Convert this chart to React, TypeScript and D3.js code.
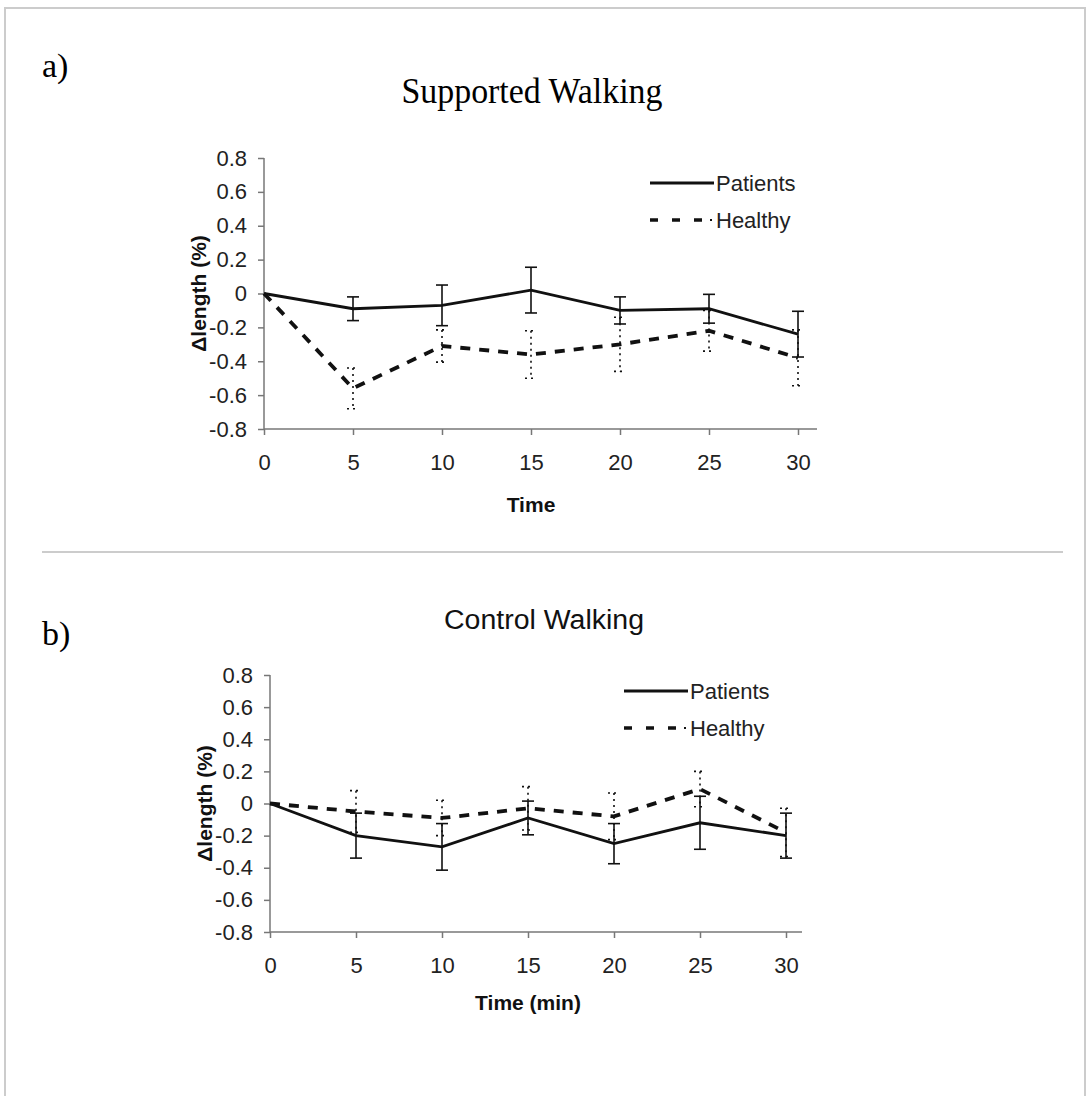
import * as d3 from 'd3';
import React, { useEffect, useRef } from 'react';

// time points (min)
const times = [0, 5, 10, 15, 20, 25, 30];
const yTicks = [-0.8, -0.6, -0.4, -0.2, 0, 0.2, 0.4, 0.6, 0.8];

// a) supported walking
const supPatients = [0, -0.09, -0.07, 0.02, -0.1, -0.09, -0.24];
const supPatientsErr = [0, 0.07, 0.12, 0.135, 0.08, 0.085, 0.135];
const supHealthy = [0, -0.56, -0.31, -0.36, -0.3, -0.22, -0.38];
const supHealthyErr = [0, 0.12, 0.095, 0.14, 0.16, 0.12, 0.165];

// b) control walking
const ctlPatients = [0, -0.2, -0.27, -0.09, -0.25, -0.12, -0.2];
const ctlPatientsErr = [0, 0.14, 0.145, 0.105, 0.125, 0.165, 0.14];
const ctlHealthy = [0, -0.05, -0.09, -0.03, -0.08, 0.09, -0.18];
const ctlHealthyErr = [0, 0.13, 0.11, 0.135, 0.145, 0.11, 0.15];

const SANS = 'Arial, "Liberation Sans", sans-serif';
const SERIF = '"Times New Roman", "Liberation Serif", serif';

const drawPanel = (svg, cfg) => {
  const x = d3.scaleLinear().domain([0, 30]).range([cfg.x0, cfg.x1]);
  const y = d3.scaleLinear().domain([-0.8, 0.8]).range([cfg.yBottom, cfg.yTop]);
  const g = svg.append('g');

  //axes
  const yAxis = g
    .append('g')
    .attr('transform', `translate(${cfg.x0},0)`)
    .call(
      d3
        .axisLeft(y)
        .tickValues(yTicks)
        .tickSize(6)
        .tickSizeOuter(0)
        .tickPadding(11)
        .tickFormat((d) => (d === 0 ? '0' : d.toFixed(1)))
    );
  const xAxis = g
    .append('g')
    .attr('transform', `translate(0,${cfg.yBottom})`)
    .call(d3.axisBottom(x).tickValues(times).tickSize(6).tickSizeOuter(0).tickPadding(19));

  [yAxis, xAxis].forEach((a) => {
    a.select('.domain').remove();
    a.selectAll('.tick line').attr('stroke', '#777').attr('stroke-width', 1.5);
    a.selectAll('.tick text')
      .attr('font-family', SANS)
      .attr('font-size', 22)
      .attr('fill', '#222');
  });

  g.append('line')
    .attr('x1', cfg.x0)
    .attr('x2', cfg.x0)
    .attr('y1', cfg.yTop)
    .attr('y2', cfg.yBottom)
    .attr('stroke', '#777')
    .attr('stroke-width', 1.5);
  g.append('line')
    .attr('x1', cfg.x0)
    .attr('x2', cfg.axisEnd)
    .attr('y1', cfg.yBottom)
    .attr('y2', cfg.yBottom)
    .attr('stroke', '#777')
    .attr('stroke-width', 1.5);

  const line = d3
    .line()
    .x((d, i) => x(times[i]))
    .y((d) => y(d));

  //error bars
  const errBars = (vals, errs, dash, width) => {
    const eg = g.append('g').attr('stroke', '#111').attr('stroke-width', width).attr('stroke-dasharray', dash);
    vals.forEach((v, i) => {
      if (errs[i] === 0) return;
      const cx = x(times[i]);
      eg.append('line').attr('x1', cx).attr('x2', cx).attr('y1', y(v + errs[i])).attr('y2', y(v - errs[i]));
      [v + errs[i], v - errs[i]].forEach((e) => {
        eg.append('line').attr('x1', cx - 6).attr('x2', cx + 6).attr('y1', y(e)).attr('y2', y(e));
      });
    });
  };

  errBars(cfg.healthy, cfg.healthyErr, '2,4', 1.6);
  g.append('path')
    .datum(cfg.healthy)
    .attr('d', line)
    .attr('fill', 'none')
    .attr('stroke', '#111')
    .attr('stroke-width', 3.8)
    .attr('stroke-dasharray', '10,9');

  errBars(cfg.patients, cfg.patientsErr, null, 1.6);
  g.append('path')
    .datum(cfg.patients)
    .attr('d', line)
    .attr('fill', 'none')
    .attr('stroke', '#111')
    .attr('stroke-width', 2.8);

  //legend
  const lg = g.append('g').attr('font-family', SANS).attr('font-size', 22).attr('fill', '#222');
  lg.append('line')
    .attr('x1', cfg.legX)
    .attr('x2', cfg.legX + 64)
    .attr('y1', cfg.legY)
    .attr('y2', cfg.legY)
    .attr('stroke', '#111')
    .attr('stroke-width', 3);
  lg.append('text').attr('x', cfg.legX + 66).attr('y', cfg.legY + 8).text('Patients');
  lg.append('line')
    .attr('x1', cfg.legX)
    .attr('x2', cfg.legX + 58)
    .attr('y1', cfg.legY + 37)
    .attr('y2', cfg.legY + 37)
    .attr('stroke', '#111')
    .attr('stroke-width', 3.5)
    .attr('stroke-dasharray', '8,14');
  lg.append('line')
    .attr('x1', cfg.legX + 60)
    .attr('x2', cfg.legX + 62)
    .attr('y1', cfg.legY + 37)
    .attr('y2', cfg.legY + 37)
    .attr('stroke', '#111')
    .attr('stroke-width', 2);
  lg.append('text').attr('x', cfg.legX + 66).attr('y', cfg.legY + 45).text('Healthy');

  //axis labels
  g.append('text')
    .attr('transform', `translate(${cfg.yLabelX},${y(0)}) rotate(-90)`)
    .attr('text-anchor', 'middle')
    .attr('font-family', SANS)
    .attr('font-weight', 'bold')
    .attr('font-size', 21)
    .attr('fill', '#111')
    .text('Δlength (%)');
  g.append('text')
    .attr('x', (cfg.x0 + cfg.x1) / 2)
    .attr('y', cfg.yBottom + cfg.xLabelOffset)
    .attr('text-anchor', 'middle')
    .attr('font-family', SANS)
    .attr('font-weight', 'bold')
    .attr('font-size', 21)
    .attr('fill', '#111')
    .text(cfg.xLabel);
};

const App = () => {
  const svgRef = useRef();

  useEffect(() => {
    const svg = d3.select(svgRef.current);
    svg.selectAll('*').remove();

    //outer frame and separator
    svg.append('rect')
      .attr('x', 5)
      .attr('y', 8)
      .attr('width', 1080)
      .attr('height', 1100)
      .attr('fill', 'white')
      .attr('stroke', '#ccc')
      .attr('stroke-width', 2);
    svg.append('line')
      .attr('x1', 42)
      .attr('x2', 1063)
      .attr('y1', 552)
      .attr('y2', 552)
      .attr('stroke', '#ccc')
      .attr('stroke-width', 2);

    svg.append('text').attr('x', 42).attr('y', 77).attr('font-family', SERIF).attr('font-size', 34).text('a)');
    svg.append('text')
      .attr('x', 532)
      .attr('y', 103)
      .attr('text-anchor', 'middle')
      .attr('font-family', SERIF)
      .attr('font-size', 35)
      .attr('textLength', 261)
      .attr('lengthAdjust', 'spacingAndGlyphs')
      .text('Supported Walking');

    svg.append('text').attr('x', 42).attr('y', 645).attr('font-family', SERIF).attr('font-size', 34).text('b)');
    svg.append('text')
      .attr('x', 544)
      .attr('y', 629)
      .attr('text-anchor', 'middle')
      .attr('font-family', SANS)
      .attr('font-size', 27)
      .attr('textLength', 200)
      .attr('lengthAdjust', 'spacingAndGlyphs')
      .attr('fill', '#111')
      .text('Control Walking');

    drawPanel(svg, {
      x0: 264,
      x1: 798,
      axisEnd: 817,
      yTop: 158,
      yBottom: 429,
      legX: 650,
      legY: 183,
      yLabelX: 206,
      xLabel: 'Time',
      xLabelOffset: 83,
      patients: supPatients,
      patientsErr: supPatientsErr,
      healthy: supHealthy,
      healthyErr: supHealthyErr
    });

    drawPanel(svg, {
      x0: 270,
      x1: 786,
      axisEnd: 802,
      yTop: 675,
      yBottom: 932,
      legX: 624,
      legY: 691,
      yLabelX: 212,
      xLabel: 'Time (min)',
      xLabelOffset: 78,
      patients: ctlPatients,
      patientsErr: ctlPatientsErr,
      healthy: ctlHealthy,
      healthyErr: ctlHealthyErr
    });
  }, []);

  return (
    <svg
      ref={svgRef}
      width={1091}
      height={1096}
      style={{ position: 'absolute', left: 0, top: 0, background: 'white' }}
    ></svg>
  );
};

export default App;
